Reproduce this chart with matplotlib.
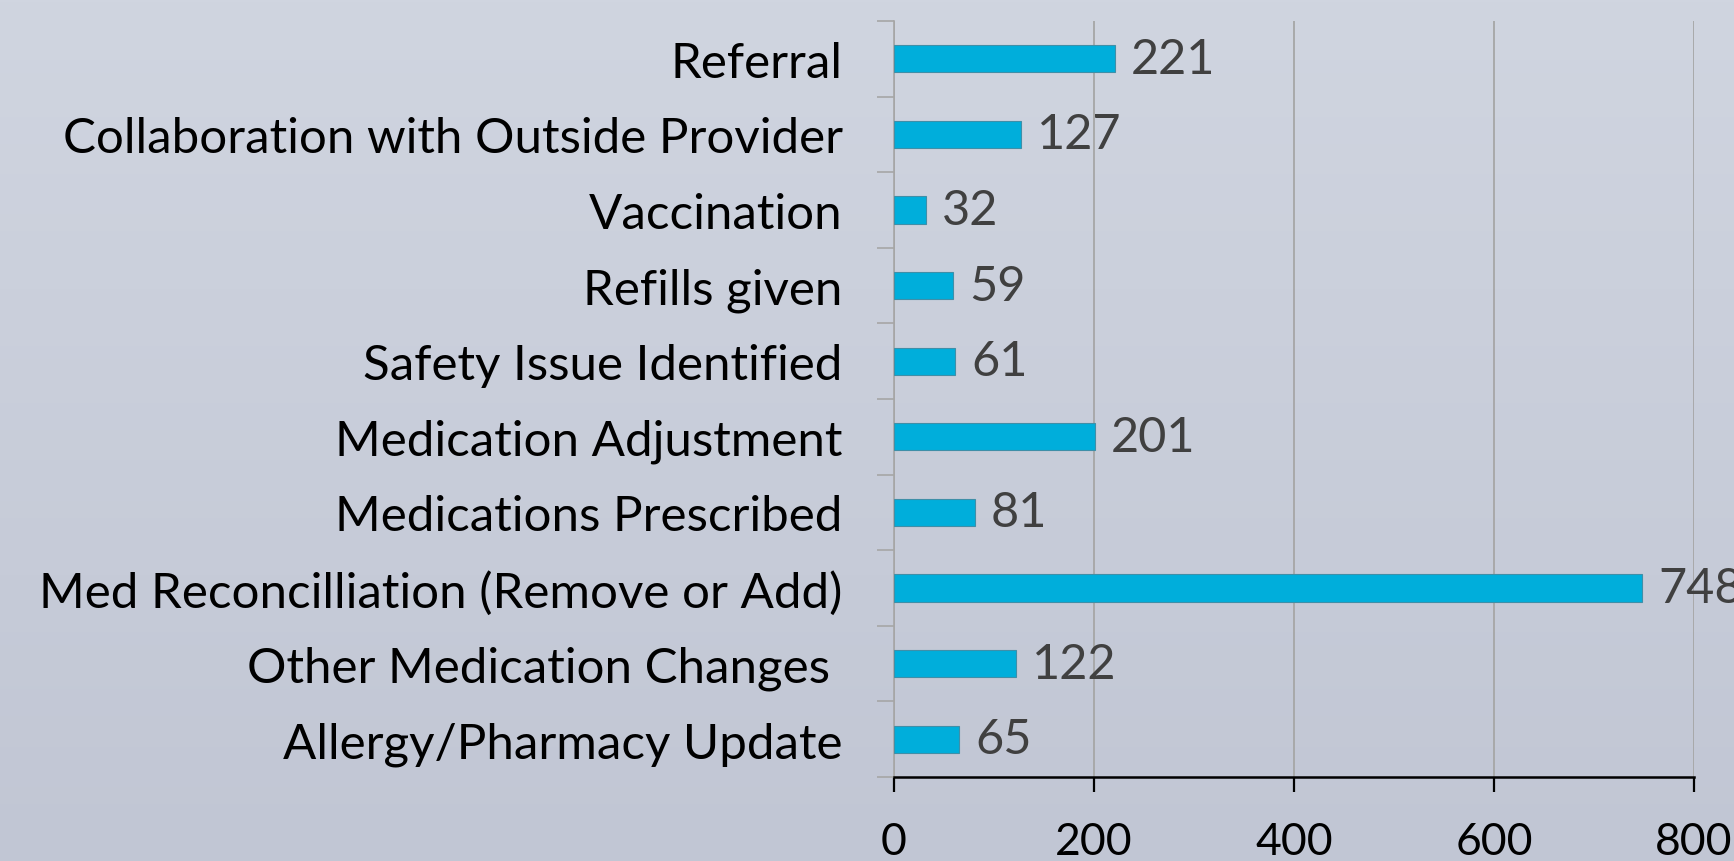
"""Horizontal bar chart of pharmacy intervention counts."""

import matplotlib
matplotlib.use("Agg")
import matplotlib.pyplot as plt
import numpy as np

categories = [
    "Referral",
    "Collaboration with Outside Provider",
    "Vaccination",
    "Refills given",
    "Safety Issue Identified",
    "Medication Adjustment",
    "Medications Prescribed",
    "Med Reconcilliation (Remove or Add)",
    "Other Medication Changes ",
    "Allergy/Pharmacy Update",
]
counts = [221, 127, 32, 59, 61, 201, 81, 748, 122, 65]
x_ticks = [0, 200, 400, 600, 800]

plt.rcParams["font.family"] = ["Lato", "DejaVu Sans"]

W, H = 1734, 862
fig = plt.figure(figsize=(W / 100, H / 100), dpi=100)

# background gradient
bg = fig.add_axes([0, 0, 1, 1], zorder=-1)
top = np.array([208, 213, 224]) / 255
bottom = np.array([193, 198, 212]) / 255
t = np.linspace(0, 1, 256)[:, None]
grad = top * (1 - t) + bottom * t
bg.imshow(grad[:, None, :], aspect="auto", extent=(0, 1, 0, 1))
bg.axis("off")

ax = fig.add_axes([894 / W, (H - 778) / H, 800 / W, (778 - 22) / H])
ax.set_facecolor("none")

n = len(categories)
y = np.arange(n)[::-1]
ax.barh(y, counts, height=0.36, color="#00AEDB", edgecolor="#3F8FA8",
        linewidth=0.8, zorder=3)

for yi, v in zip(y, counts):
    ax.text(v + 16, yi, str(v), va="center", ha="left", fontsize=35,
            color="#404040", zorder=4, clip_on=False)

ax.set_xlim(0, 800)
ax.set_ylim(-0.5, n - 0.5)
ax.set_xticks(x_ticks)
ax.set_xticklabels([str(v) for v in x_ticks])
ax.set_yticks(y)
ax.set_yticklabels(categories)
ax.set_yticks(np.arange(-0.5, n, 1.0), minor=True)

ax.tick_params(axis="y", which="major", length=0, pad=37, labelsize=35.5,
               labelcolor="black")
ax.tick_params(axis="y", which="minor", length=12, width=1.2,
               color="#A6A6A6", direction="out")
ax.tick_params(axis="x", which="major", length=11, width=1.6, color="black",
               direction="out", pad=21, labelsize=32, labelcolor="black")

ax.grid(axis="x", color="#A6A6A6", linewidth=1.3, zorder=0)
ax.set_axisbelow(True)

for side in ("top", "right"):
    ax.spines[side].set_visible(False)
ax.spines["left"].set_color("#A6A6A6")
ax.spines["left"].set_linewidth(1.2)
ax.spines["bottom"].set_color("black")
ax.spines["bottom"].set_linewidth(1.8)

fig.savefig("out.png", dpi=100)
